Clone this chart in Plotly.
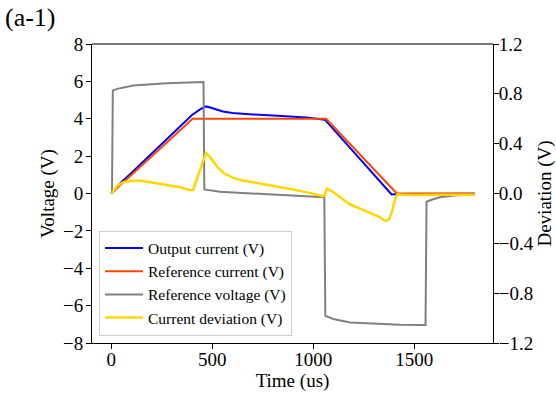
import plotly.graph_objects as go

# ---- data ----
blue_t = [0, 50, 100, 200, 300, 400, 440, 469, 490, 520, 553, 600, 637, 700, 802, 900, 967, 1058, 1388, 1420, 1500, 1600, 1700, 1800]
blue_v = [0, 0.6, 1.1, 2.15, 3.2, 4.2, 4.5, 4.66, 4.6, 4.48, 4.39, 4.31, 4.27, 4.23, 4.18, 4.12, 4.07, 3.95, -0.05, -0.03, -0.02, -0.02, -0.02, -0.02]

red_t = [0, 403, 1064, 1414, 1800]
red_v = [0, 4.0, 4.0, 0.0, 0.0]

gray_t = [0, 4, 8, 30, 109, 200, 274, 350, 439, 457, 461, 480, 539, 650, 786, 900, 984, 1055, 1060, 1100, 1182, 1300, 1430, 1556, 1561, 1590, 1627, 1710, 1800]
gray_v = [0, 0.05, 5.51, 5.6, 5.78, 5.86, 5.9, 5.92, 5.94, 5.96, 0.22, 0.18, 0.09, 0.03, -0.05, -0.12, -0.18, -0.2, -6.54, -6.72, -6.9, -6.97, -7.02, -7.04, -0.44, -0.32, -0.2, -0.1, -0.05]

yel_t = [0, 30, 60, 93, 142, 200, 241, 300, 340, 390, 406, 440, 469, 490, 530, 560, 604, 650, 703, 750, 802, 850, 901, 950, 984, 1041, 1055, 1068, 1100, 1182, 1230, 1281, 1330, 1355, 1374, 1390, 1400, 1416, 1450, 1500, 1600, 1700, 1800]
yel_d = [0.0, 0.06, 0.09, 0.10, 0.104, 0.09, 0.077, 0.062, 0.05, 0.026, 0.03, 0.19, 0.325, 0.29, 0.205, 0.16, 0.125, 0.105, 0.09, 0.075, 0.064, 0.05, 0.032, 0.015, 0.005, -0.02, -0.02, 0.04, 0.01, -0.088, -0.12, -0.155, -0.19, -0.22, -0.21, -0.15, -0.075, -0.008, -0.01, -0.012, -0.01, -0.012, -0.01]

x_ticks = [0, 500, 1000, 1500]
left_ticks = [-8, -6, -4, -2, 0, 2, 4, 6, 8]
right_ticks = [-1.2, -0.8, -0.4, 0.0, 0.4, 0.8, 1.2]

FONT = "Liberation Serif"
TICKFONT = dict(family=FONT, size=19, color="black")

fig = go.Figure()
fig.add_trace(go.Scatter(x=blue_t, y=blue_v, mode="lines", name="Output current (V)",
                         line=dict(color="#0000FF", width=2)))
fig.add_trace(go.Scatter(x=red_t, y=red_v, mode="lines", name="Reference current (V)",
                         line=dict(color="#FF4500", width=2)))
fig.add_trace(go.Scatter(x=gray_t, y=gray_v, mode="lines", name="Reference voltage (V)",
                         line=dict(color="#808080", width=2)))
fig.add_trace(go.Scatter(x=yel_t, y=yel_d, mode="lines", name="Current deviation (V)",
                         line=dict(color="#FFD700", width=2.5), yaxis="y2"))

fig.update_layout(
    width=556, height=394,
    template="none",
    paper_bgcolor="white", plot_bgcolor="white",
    margin=dict(l=92, r=63, t=44, b=50.5),
    font=dict(family=FONT, size=19, color="black"),
    showlegend=True,
    legend=dict(x=0.0175, y=0.025, xanchor="left", yanchor="bottom",
                itemwidth=38,
                bgcolor="rgba(255,255,255,0.85)", bordercolor="#cccccc", borderwidth=1,
                font=dict(family=FONT, size=15.5, color="black")),
    xaxis=dict(range=[-95, 1890], tickvals=x_ticks, ticks="outside", ticklen=5,
               ticklabelstandoff=-6,
               tickcolor="black", tickfont=TICKFONT, showgrid=False, zeroline=False, showline=True,
               linecolor="black", linewidth=1,
               title=dict(text="Time (us)", font=dict(family=FONT, size=19), standoff=0)),
    yaxis=dict(range=[-8, 8], tickvals=left_ticks, ticks="outside", ticklen=5,
               ticklabelstandoff=-1,
               tickcolor="black", tickfont=TICKFONT, showgrid=False, zeroline=False, showline=True,
               linecolor="black", linewidth=1,
               title=dict(text="Voltage (V)", font=dict(family=FONT, size=19), standoff=3)),
    yaxis2=dict(range=[-1.2, 1.2], tickvals=right_ticks, tickformat=".1f",
                overlaying="y", side="right", ticks="outside", ticklen=5,
                ticklabelstandoff=-4,
                tickcolor="black", tickfont=TICKFONT, showgrid=False, zeroline=False, showline=True,
                linecolor="black", linewidth=1,
                title=dict(text="Deviation (V)", font=dict(family=FONT, size=19), standoff=8)),
    shapes=[dict(type="line", xref="paper", yref="paper", x0=0, x1=1, y0=1, y1=1,
                 line=dict(color="#7a7a7a", width=2))],
    annotations=[dict(text="(a-1)", xref="paper", yref="paper", x=-0.222, y=1.087,
                      xanchor="left", yanchor="middle", showarrow=False,
                      font=dict(family=FONT, size=26, color="black"))],
)

fig.write_html("out.html", config={"displayModeBar": False},
               post_script="document.body.style.margin='0px';")
